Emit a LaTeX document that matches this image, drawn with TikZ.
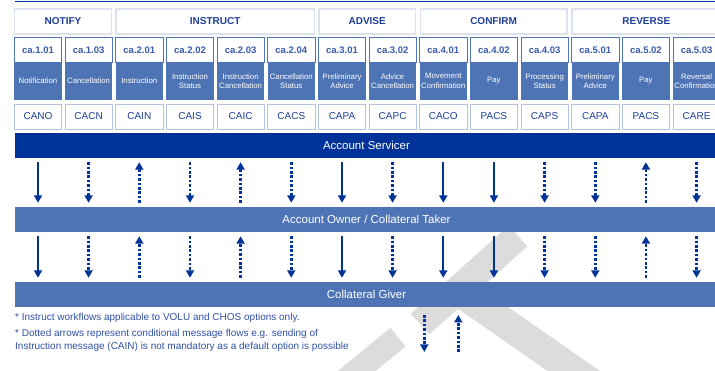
\documentclass[tikz,border=0pt]{standalone}
\usepackage{fontspec}
\setmainfont{Liberation Sans}
\usetikzlibrary{arrows.meta}

\definecolor{navy}{HTML}{003399}
\definecolor{midblue}{HTML}{4F74B5}
\definecolor{txtblue}{HTML}{1F3F97}
\definecolor{codeblue}{HTML}{3A5BAA}
\definecolor{noteblue}{HTML}{2F50A4}
\definecolor{hdrframe}{HTML}{DDE3EE}
\definecolor{msgframe}{HTML}{B3C3E0}
\definecolor{wmark}{HTML}{DCDCDC}

\begin{document}
\begin{tikzpicture}[x = 1pt, y = -1pt,
                hdr/.style = {draw = hdrframe, line width = 1.3pt, fill = white, minimum height = 25pt, inner sep = 0pt, text = txtblue, font = \bfseries\fontsize{10}{12}\selectfont},
                code/.style = {draw = midblue, line width = 0.8pt, fill = white, minimum width = 47.3pt, minimum height = 24.6pt, inner sep = 0pt, text = codeblue, font = \bfseries\fontsize{9.5}{11}\selectfont},
                desc/.style = {fill = midblue, minimum width = 47.3pt, minimum height = 38pt, inner sep = 0pt, align = center, text = white, font = \fontsize{7.8}{9.3}\selectfont},
                msg/.style = {draw = msgframe, line width = 0.8pt, fill = white, minimum width = 47.3pt, minimum height = 25pt, inner sep = 0pt, text = txtblue, font = \fontsize{10}{12}\selectfont},
                bar/.style = {minimum width = 703pt, minimum height = 25pt, inner sep = 0pt, text = white, font = \fontsize{11.5}{13}\selectfont},
                sol/.style = {draw = navy, line width = 2pt, shorten <= 4pt, shorten >= 4pt, -{Triangle[width = 8pt, length = 7.5pt]}},
                dots/.style = {sol, line width = 2.7pt, dash pattern = on 2.6pt off 1.8pt},
                note/.style = {anchor = west, inner sep = 0pt, align = left, text = noteblue, font = \fontsize{10}{12.7}\selectfont},
            ]
            \useasboundingbox (0, 0) rectangle (715, 371);
            \clip (0, 0) rectangle (715, 371);

            % watermark behind everything
            \draw[wmark, line width = 28pt] (518, 236) -- (420, 324);
            \draw[wmark, line width = 24pt] (398, 337) -- (330, 393);
            \draw[wmark, line width = 30pt] (466, 296) -- (624, 406);

            \draw[navy, line width = 1.2pt] (15, 1.5) -- (715, 1.5);

            % process groups
            \node (H1) at (63, 21.5) [hdr, minimum width = 97.4pt] {NOTIFY};
            \node (H2) at (215.2, 21.5) [hdr, minimum width = 198.3pt] {INSTRUCT};
            \node (H3) at (367.2, 21.5) [hdr, minimum width = 96.3pt] {ADVISE};
            \node (H4) at (493.6, 21.5) [hdr, minimum width = 146.7pt] {CONFIRM};
            \node (H5) at (646.3, 21.5) [hdr, minimum width = 148.6pt] {REVERSE};

            % message descriptions
            \node (D1) at (38.0, 81) [desc] {Notification};
            \node (D2) at (88.6, 81) [desc] {Cancellation};
            \node (D3) at (139.3, 81) [desc] {Instruction};
            \node (D4) at (190.0, 81) [desc] {Instruction\\Status};
            \node (D5) at (240.6, 81) [desc] {Instruction\\Cancellation};
            \node (D6) at (291.3, 81) [desc] {Cancellation\\Status};
            \node (D7) at (342.0, 81) [desc] {Preliminary\\Advice};
            \node (D8) at (392.6, 81) [desc] {Advice\\Cancellation};
            \node (D9) at (443.3, 81) [desc] {Movement\\Confirmation};
            \node (D10) at (493.9, 81) [desc] {Pay};
            \node (D11) at (544.6, 81) [desc] {Processing\\Status};
            \node (D12) at (595.3, 81) [desc] {Preliminary\\Advice};
            \node (D13) at (645.9, 81) [desc] {Pay};
            \node (D14) at (696.6, 81) [desc] {Reversal\\Confirmation};

            % message codes
            \node (K1) at (38.0, 50) [code] {ca.1.01};
            \node (K2) at (88.6, 50) [code] {ca.1.03};
            \node (K3) at (139.3, 50) [code] {ca.2.01};
            \node (K4) at (190.0, 50) [code] {ca.2.02};
            \node (K5) at (240.6, 50) [code] {ca.2.03};
            \node (K6) at (291.3, 50) [code] {ca.2.04};
            \node (K7) at (342.0, 50) [code] {ca.3.01};
            \node (K8) at (392.6, 50) [code] {ca.3.02};
            \node (K9) at (443.3, 50) [code] {ca.4.01};
            \node (K10) at (493.9, 50) [code] {ca.4.02};
            \node (K11) at (544.6, 50) [code] {ca.4.03};
            \node (K12) at (595.3, 50) [code] {ca.5.01};
            \node (K13) at (645.9, 50) [code] {ca.5.02};
            \node (K14) at (696.6, 50) [code] {ca.5.03};

            % short names
            \node (M1) at (38.0, 116.5) [msg] {CANO};
            \node (M2) at (88.6, 116.5) [msg] {CACN};
            \node (M3) at (139.3, 116.5) [msg] {CAIN};
            \node (M4) at (190.0, 116.5) [msg] {CAIS};
            \node (M5) at (240.6, 116.5) [msg] {CAIC};
            \node (M6) at (291.3, 116.5) [msg] {CACS};
            \node (M7) at (342.0, 116.5) [msg] {CAPA};
            \node (M8) at (392.6, 116.5) [msg] {CAPC};
            \node (M9) at (443.3, 116.5) [msg] {CACO};
            \node (M10) at (493.9, 116.5) [msg] {PACS};
            \node (M11) at (544.6, 116.5) [msg] {CAPS};
            \node (M12) at (595.3, 116.5) [msg] {CAPA};
            \node (M13) at (645.9, 116.5) [msg] {PACS};
            \node (M14) at (696.6, 116.5) [msg] {CARE};

            % parties
            \node (AS) at (366.5, 145.5) [bar, fill = navy] {Account Servicer};
            \node (AO) at (366.5, 219.5) [bar, fill = midblue] {Account Owner / Collateral Taker};
            \node (CG) at (366.5, 294.5) [bar, fill = midblue] {Collateral Giver};

            % servicer <-> owner
            \path[sol] (M1 |- AS.south) -- (M1 |- AO.north);
            \path[dots] (M2 |- AS.south) -- (M2 |- AO.north);
            \path[dots] (M3 |- AO.north) -- (M3 |- AS.south);
            \path[dots] (M4 |- AS.south) -- (M4 |- AO.north);
            \path[dots] (M5 |- AO.north) -- (M5 |- AS.south);
            \path[dots] (M6 |- AS.south) -- (M6 |- AO.north);
            \path[sol] (M7 |- AS.south) -- (M7 |- AO.north);
            \path[dots] (M8 |- AS.south) -- (M8 |- AO.north);
            \path[sol] (M9 |- AS.south) -- (M9 |- AO.north);
            \path[sol] (M10 |- AS.south) -- (M10 |- AO.north);
            \path[dots] (M11 |- AS.south) -- (M11 |- AO.north);
            \path[dots] (M12 |- AS.south) -- (M12 |- AO.north);
            \path[dots] (M13 |- AO.north) -- (M13 |- AS.south);
            \path[dots] (M14 |- AS.south) -- (M14 |- AO.north);

            % owner <-> giver
            \path[sol] (M1 |- AO.south) -- (M1 |- CG.north);
            \path[dots] (M2 |- AO.south) -- (M2 |- CG.north);
            \path[dots] (M3 |- CG.north) -- (M3 |- AO.south);
            \path[dots] (M4 |- AO.south) -- (M4 |- CG.north);
            \path[dots] (M5 |- CG.north) -- (M5 |- AO.south);
            \path[dots] (M6 |- AO.south) -- (M6 |- CG.north);
            \path[sol] (M7 |- AO.south) -- (M7 |- CG.north);
            \path[dots] (M8 |- AO.south) -- (M8 |- CG.north);
            \path[sol] (M9 |- AO.south) -- (M9 |- CG.north);
            \path[sol] (M10 |- AO.south) -- (M10 |- CG.north);
            \path[dots] (M11 |- AO.south) -- (M11 |- CG.north);
            \path[dots] (M12 |- AO.south) -- (M12 |- CG.north);
            \path[dots] (M13 |- CG.north) -- (M13 |- AO.south);
            \path[dots] (M14 |- AO.south) -- (M14 |- CG.north);

            % notes
            \node (N1) at (15, 317.7) [note] {* Instruct workflows applicable to VOLU and CHOS options only.};
            \node (N2) at (15, 340.4) [note] {* Dotted arrows represent conditional message flows e.g. sending of\\Instruction message (CAIN) is not mandatory as a default option is possible};

            \coordinate (L1a) at (424.3, 315);
            \coordinate (L1b) at (424.3, 352);
            \coordinate (L2a) at (458.3, 315);
            \coordinate (L2b) at (458.3, 352);
            \path[dots, shorten <= 0pt, shorten >= 0pt] (L1a) -- (L1b);
            \path[dots, shorten <= 0pt, shorten >= 0pt] (L2b) -- (L2a);
        \end{tikzpicture}
\end{document}
